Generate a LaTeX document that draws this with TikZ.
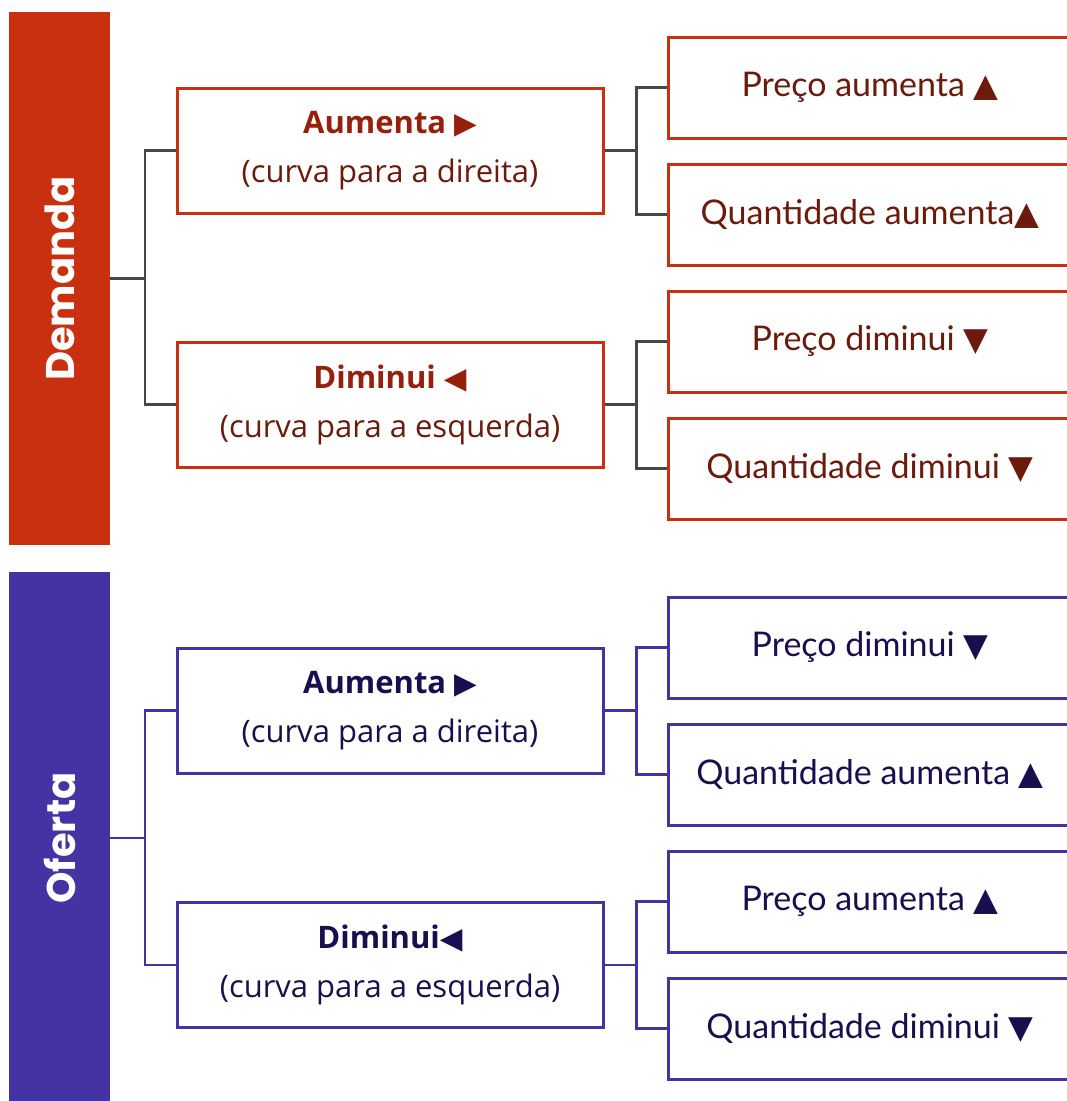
\documentclass[tikz,border=0pt]{standalone}
\usepackage{fontspec}
\setmainfont{Open Sans}
\newfontfamily\rfont{Lato}
\newfontfamily\barfont{Poppins}
\newfontfamily\symfont{DejaVu Sans}[Scale=0.95]
\definecolor{demred}{HTML}{C8300F}
\definecolor{demtxtb}{HTML}{96200C}
\definecolor{demtxt}{HTML}{6B1A0C}
\definecolor{congray}{HTML}{474747}
\definecolor{ofpur}{HTML}{4433A3}
\definecolor{oftxt}{HTML}{1A0E4E}
\newcommand{\tri}[1]{{\symfont #1}}
\newcommand{\htri}[1]{{\symfont\fontsize{31}{31}\selectfont #1}}
\tikzset{
  barbox/.style={rectangle, inner sep=0pt, minimum width=533pt, minimum height=101pt, rotate=90,
    text=white, font=\barfont\bfseries\fontsize{40}{40}\selectfont},
  midbox/.style={rectangle, draw=#1, line width=3pt, fill=white, minimum width=426pt, minimum height=125pt,
    inner sep=0pt, align=center, font=\fontsize{31}{49}\selectfont},
  rbox/.style={rectangle, draw=#1, line width=3pt, fill=white, minimum width=404pt, minimum height=101pt,
    inner sep=0pt, font=\rfont\fontsize{34}{34}\selectfont},
  dcon/.style={draw=congray, line width=2.5pt},
  ocon/.style={draw=ofpur, line width=2.5pt},
}
\begin{document}
\begin{tikzpicture}[x=1pt,y=1pt]
\useasboundingbox (0,0) rectangle (1067,-1101);
\fill[white] (0,0) rectangle (1067,-1101);
\begin{scope}
\clip (0,0) rectangle (1067,-1101);
% ---------- Demanda ----------
\node[barbox, fill=demred] (dem) at (59.5,-278.5) {Demanda};
\node[midbox=demred, text=demtxt] (dA) at (390,-150.5) {{\bfseries\color{demtxtb}Aumenta \htri{▶}}\\(curva para a direita)};
\node[midbox=demred, text=demtxt] (dD) at (390,-404.5) {{\bfseries\color{demtxtb}Diminui \htri{◀}}\\(curva para a esquerda)};
\node[rbox=demred, text=demtxt] (d1) at (870,-87.5) {Preço aumenta \tri{▲}};
\node[rbox=demred, text=demtxt] (d2) at (870,-214.5) {Quantidade aumenta\tri{▲}};
\node[rbox=demred, text=demtxt] (d3) at (870,-341.5) {Preço diminui \tri{▼}};
\node[rbox=demred, text=demtxt] (d4) at (870,-468.5) {Quantidade diminui \tri{▼}};
\draw[dcon] (dem.south) -- ++(35,0) coordinate (dj);
\draw[dcon] (dj) |- (dA.west);
\draw[dcon] (dj) |- (dD.west);
\draw[dcon] (dA.east) -- ++(32,0) coordinate (dAj);
\draw[dcon] (dAj) |- (d1.west);
\draw[dcon] (dAj) |- (d2.west);
\draw[dcon] (dD.east) -- ++(32,0) coordinate (dDj);
\draw[dcon] (dDj) |- (d3.west);
\draw[dcon] (dDj) |- (d4.west);
% ---------- Oferta ----------
\node[barbox, fill=ofpur] (of) at (59.5,-838) {Oferta};
\node[midbox=ofpur, text=oftxt] (oA) at (390,-710.5) {{\bfseries Aumenta \htri{▶}}\\(curva para a direita)};
\node[midbox=ofpur, text=oftxt] (oD) at (390,-965) {{\bfseries Diminui\htri{◀}}\\(curva para a esquerda)};
\node[rbox=ofpur, text=oftxt] (o1) at (870,-647.5) {Preço diminui \tri{▼}};
\node[rbox=ofpur, text=oftxt] (o2) at (870,-774.5) {Quantidade aumenta \tri{▲}};
\node[rbox=ofpur, text=oftxt] (o3) at (870,-901.5) {Preço aumenta \tri{▲}};
\node[rbox=ofpur, text=oftxt] (o4) at (870,-1028.5) {Quantidade diminui \tri{▼}};
\draw[ocon] (of.south) -- ++(35,0) coordinate (oj);
\draw[ocon] (oj) |- (oA.west);
\draw[ocon] (oj) |- (oD.west);
\draw[ocon] (oA.east) -- ++(32,0) coordinate (oAj);
\draw[ocon] (oAj) |- (o1.west);
\draw[ocon] (oAj) |- (o2.west);
\draw[ocon] (oD.east) -- ++(32,0) coordinate (oDj);
\draw[ocon] (oDj) |- (o3.west);
\draw[ocon] (oDj) |- (o4.west);
\end{scope}
\end{tikzpicture}
\end{document}
